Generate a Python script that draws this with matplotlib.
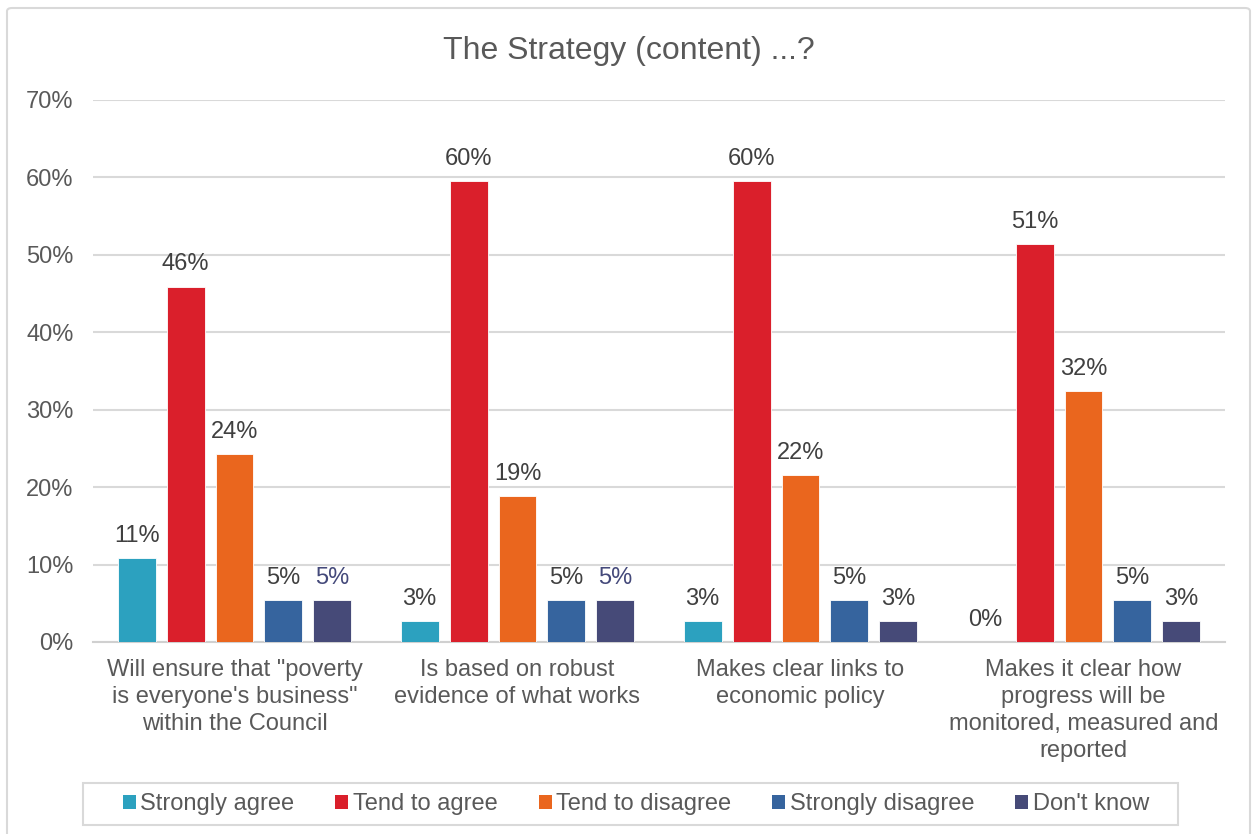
import matplotlib.pyplot as plt
from matplotlib.patches import FancyBboxPatch, Patch, Rectangle
import numpy as np

plt.rcParams['font.family'] = ['Liberation Sans', 'DejaVu Sans']

categories = [
    'Will ensure that "poverty\nis everyone\'s business"\nwithin the Council',
    'Is based on robust\nevidence of what works',
    'Makes clear links to\neconomic policy',
    'Makes it clear how\nprogress will be\nmonitored, measured and\nreported',
]
series = ['Strongly agree', 'Tend to agree', 'Tend to disagree',
          'Strongly disagree', "Don't know"]
values = [
    [10.8, 2.7, 2.7, 0.0],
    [45.9, 59.5, 59.5, 51.4],
    [24.3, 18.9, 21.6, 32.4],
    [5.4, 5.4, 5.4, 5.4],
    [5.4, 5.4, 2.7, 2.7],
]
colors = ['#2CA1BF', '#DA1F2B', '#EA661E', '#36649E', '#464A78']
label_colors = ['#404040', '#404040', '#404040', '#404040', '#44497A']

fig = plt.figure(figsize=(12.57, 8.34), dpi=100)
W, H = 1257, 834
border = FancyBboxPatch((7 / W, -0.02), 1243 / W, 1.0 - 8 / H + 0.02,
                        boxstyle='round,pad=0,rounding_size=0.004',
                        transform=fig.transFigure, facecolor='none',
                        edgecolor='#D9D9D9', linewidth=1.5, zorder=-1)
fig.patches.append(border)

ax = fig.add_axes([93 / W, 1 - 642 / H, 1132 / W, 542 / H])
ax.set_facecolor('none')

x = np.arange(len(categories))
pitch = 0.173
width = 0.134
for i, (name, vals) in enumerate(zip(series, values)):
    pos = x + (i - 2) * pitch
    ax.bar(pos, [v / 100 for v in vals], width, color=colors[i],
           edgecolor='#FFFFFF', linewidth=0.6, label=name, zorder=3)
    for j, v in enumerate(vals):
        c = label_colors[i] if j < 2 else '#404040'
        ax.annotate(f'{v:.0f}%', (pos[j], v / 100), xytext=(0, 8),
                    textcoords='offset points', ha='center', va='bottom',
                    fontsize=17, color=c)

ax.set_xlim(-0.5, 3.5)
ax.set_ylim(0, 0.7)
yt = np.arange(0, 0.71, 0.1)
ax.set_yticks(yt)
ax.set_yticklabels([f'{int(round(t * 100))}%' for t in yt])
ax.set_xticks(x)
ax.set_xticklabels(categories, linespacing=1.3)
ax.tick_params(axis='both', length=0, labelsize=17, colors='#595959')
ax.tick_params(axis='y', pad=14)
ax.tick_params(axis='x', pad=12)
ax.grid(axis='y', color='#D9D9D9', linewidth=1.5, zorder=0)
for s in ['top', 'right', 'left']:
    ax.spines[s].set_visible(False)
ax.spines['bottom'].set_color('#D0D0D0')
ax.spines['bottom'].set_linewidth(1.5)

fig.text(0.5, 1 - 51 / H, 'The Strategy (content) ...?', ha='center',
         va='center', fontsize=23, color='#595959')

# legend box (Excel leaves extra room on both sides)
fig.patches.append(Rectangle((83 / W, 1 - 825 / H), 1095 / W, 42 / H,
                             transform=fig.transFigure, facecolor='white',
                             edgecolor='#D9D9D9', linewidth=1.5, zorder=-1))
handles = [Patch(facecolor=c, edgecolor='none') for c in colors]
leg = fig.legend(handles, series, loc='center', bbox_to_anchor=(636 / W, 1 - 804 / H),
                 ncol=5, fontsize=17, frameon=False,
                 handlelength=0.55, handleheight=0.55, handletextpad=0.2,
                 columnspacing=1.73, borderpad=0.45)
for t in leg.get_texts():
    t.set_color('#595959')

fig.savefig('out.png', dpi=100)
